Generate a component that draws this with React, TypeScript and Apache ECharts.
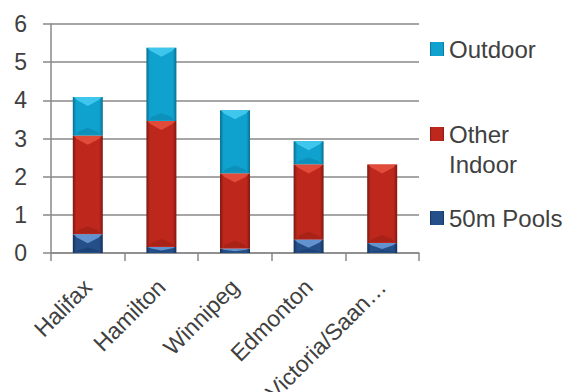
import React, { useEffect, useRef } from "react";
import * as echarts from "echarts";

const categories = ["Halifax", "Hamilton", "Winnipeg", "Edmonton", "Victoria/Saanich"];
const pools50m = [0.49, 0.16, 0.11, 0.35, 0.26];
const otherIndoor = [2.58, 3.3, 1.97, 1.97, 2.06];
const outdoor = [1.02, 1.92, 1.66, 0.61, 0];
const yTicks = [0, 1, 2, 3, 4, 5, 6];

const grad = (edge: string, mid: string) =>
  new echarts.graphic.LinearGradient(0, 0, 1, 0, [
    { offset: 0, color: edge },
    { offset: 0.12, color: mid },
    { offset: 0.88, color: mid },
    { offset: 1, color: edge },
  ]);

const TXT = "#404040";
const FONT = "Liberation Sans, Arial, sans-serif";
const BAR_W = 30;

export default function App() {
  const ref = useRef<HTMLDivElement>(null);
  useEffect(() => {
    if (!ref.current) return;
    const chart = echarts.init(ref.current, undefined, { renderer: "svg" });
    const legendBase = {
      orient: "vertical" as const,
      left: 430,
      padding: 0,
      itemWidth: 14,
      itemHeight: 14,
      itemGap: 0,
      icon: "rect",
      textStyle: { color: TXT, fontSize: 24, fontFamily: FONT, lineHeight: 30 },
    };
    const bevelData = categories.map((_, i) => [i, pools50m[i], otherIndoor[i], outdoor[i]]);
    const highlight = ["#6F9FDA", "#E8523F", "#46CDF1"];
    const shade = ["#183C6B", "#9A1F16", "#0B86AE"];
    chart.setOption({
      animation: false,
      backgroundColor: "#ffffff",
      textStyle: { fontFamily: FONT },
      grid: {
        left: 51,
        right: 156,
        top: 24,
        bottom: 139,
        containLabel: false,
        outerBoundsMode: "none",
      },
      legend: [
        { ...legendBase, top: 34, data: ["Outdoor"] },
        {
          ...legendBase,
          top: 89,
          data: ["Other Indoor"],
          formatter: () => " \nOther\nIndoor",
        },
        { ...legendBase, top: 203, data: ["50m Pools"] },
      ],
      xAxis: {
        type: "category",
        data: categories,
        axisLine: { lineStyle: { color: "#898989", width: 1.5 } },
        axisTick: { show: true, length: 8, lineStyle: { color: "#898989", width: 1.5 } },
        axisLabel: {
          rotate: 45,
          color: TXT,
          fontSize: 23,
          fontFamily: FONT,
          margin: 30,
          interval: 0,
          width: 163,
          overflow: "truncate",
          ellipsis: "…",
          hideOverlap: false,
        },
      },
      yAxis: {
        type: "value",
        min: 0,
        max: 6,
        interval: 1,
        axisLine: { show: true, lineStyle: { color: "#898989", width: 1.5 } },
        axisTick: { show: true, length: 8, lineStyle: { color: "#898989", width: 1.5 } },
        splitLine: { lineStyle: { color: "#898989", width: 1.5 } },
        axisLabel: {
          color: TXT,
          fontSize: 23,
          fontFamily: FONT,
          margin: 24,
          formatter: (v: number) => (yTicks.includes(v) ? String(v) : ""),
        },
      },
      series: [
        {
          name: "50m Pools",
          type: "bar",
          stack: "total",
          barWidth: BAR_W,
          data: pools50m,
          itemStyle: { color: grad("#14305A", "#244F88") },
        },
        {
          name: "Other Indoor",
          type: "bar",
          stack: "total",
          barWidth: BAR_W,
          data: otherIndoor,
          itemStyle: { color: grad("#7E1811", "#BE271C") },
        },
        {
          name: "Outdoor",
          type: "bar",
          stack: "total",
          barWidth: BAR_W,
          data: outdoor,
          itemStyle: { color: grad("#0A6F92", "#0FA2CF") },
        },
        {
          type: "custom",
          silent: true,
          z: 5,
          data: bevelData,
          renderItem: (_p: any, api: any) => {
            const idx = api.value(0);
            const children: any[] = [];
            let base = 0;
            for (let s = 0; s < 3; s++) {
              const v = api.value(s + 1);
              if (!v) continue;
              const pTop = api.coord([idx, base + v]);
              const pBot = api.coord([idx, base]);
              base += v;
              const h = pBot[1] - pTop[1];
              const x0 = pTop[0] - BAR_W / 2;
              const x1 = pTop[0] + BAR_W / 2;
              const bh = Math.min(9, h * 0.6);
              children.push({
                type: "polygon",
                shape: {
                  points: [
                    [x0 + 1, pTop[1]],
                    [x1 - 1, pTop[1]],
                    [x1 - 4, pTop[1] + bh * 0.35],
                    [pTop[0], pTop[1] + bh],
                    [x0 + 4, pTop[1] + bh * 0.35],
                  ],
                },
                style: { fill: highlight[s], opacity: 0.85 },
              });
              const sh = Math.min(8, h * 0.3);
              children.push({
                type: "polygon",
                shape: {
                  points: [
                    [x0 + 3, pBot[1] - 1],
                    [x1 - 3, pBot[1] - 1],
                    [x1 - 5, pBot[1] - sh * 0.5],
                    [pTop[0], pBot[1] - sh],
                    [x0 + 5, pBot[1] - sh * 0.5],
                  ],
                },
                style: { fill: shade[s], opacity: 0.6 },
              });
            }
            return { type: "group", children };
          },
        },
      ],
    });
    return () => chart.dispose();
  }, []);
  return <div ref={ref} style={{ width: 575, height: 392, position: "absolute", left: 0, top: 0 }} />;
}
